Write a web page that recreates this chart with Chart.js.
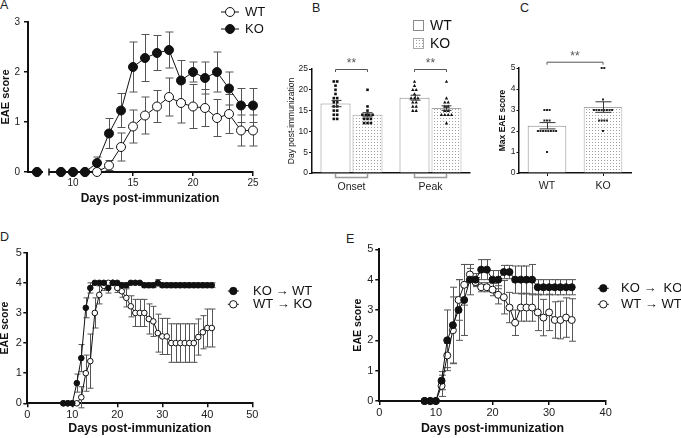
<!DOCTYPE html>
<html>
<head>
<meta charset="utf-8">
<title>EAE figure</title>
<script src="https://cdn.jsdelivr.net/npm/chart.js@4.4.1/dist/chart.umd.min.js"></script>
<style>
  html, body { margin:0; padding:0; background:#fff; }
  body { position:relative; width:681px; height:438px; overflow:hidden; font-family:"Liberation Sans", Arial, sans-serif; }
  canvas { position:absolute; }
  .pl { position:absolute; font-size:12.5px; line-height:1; color:#222; }
</style>
</head>
<body>
<div class="pl" style="left:0px;top:-0.6px">A</div>
<div class="pl" style="left:312px;top:1.7px">B</div>
<div class="pl" style="left:520px;top:1.7px">C</div>
<div class="pl" style="left:0px;top:231.4px">D</div>
<div class="pl" style="left:346px;top:233.4px">E</div>
<canvas id="cA" width="280" height="215" style="left:0;top:0;width:280px;height:215px"></canvas>
<canvas id="cB" width="212" height="215" style="left:280px;top:0;width:212px;height:215px"></canvas>
<canvas id="cC" width="189" height="215" style="left:492px;top:0;width:189px;height:215px"></canvas>
<canvas id="cD" width="340" height="223" style="left:0;top:215px;width:340px;height:223px"></canvas>
<canvas id="cE" width="341" height="223" style="left:340px;top:215px;width:341px;height:223px"></canvas>
<script>
// ===================== DATA =====================
// Panel A: EAE score, WT vs KO (mean, SEM)
const A_SERIES = ['WT', 'KO'];
const A_DAYS   = [7, 8, 9, 10, 11, 12, 13, 14, 15, 16, 17, 18, 19, 20, 21, 22, 23, 24, 25];
const A_KO     = [0, null, 0, 0, 0, 0.18, 0.77, 1.23, 2.10, 2.28, 2.38, 2.44, 1.83, 2.00, 1.88, 2.00, 1.67, 1.33, 1.33];
const A_KO_SEM = [0, 0, 0, 0, 0, 0.12, 0.30, 0.34, 0.50, 0.47, 0.35, 0.36, 0.40, 0.20, 0.32, 0.40, 0.33, 0.34, 0.34];
const A_WT     = [0, null, 0, 0, 0, 0, 0.13, 0.50, 0.91, 1.13, 1.31, 1.50, 1.38, 1.31, 1.28, 1.08, 1.16, 0.83, 0.83];
const A_WT_SEM = [0, 0, 0, 0, 0, 0, 0.10, 0.28, 0.33, 0.37, 0.32, 0.38, 0.40, 0.44, 0.37, 0.37, 0.39, 0.31, 0.31];
const A_XTICKS = [10, 15, 20, 25];
const A_YTICKS = [0, 1, 2, 3];
const A_BREAK  = [7.5, 8];
const A_XTITLE = 'Days post-immunization';
const A_YTITLE = 'EAE score';

// Panel B: day of onset / peak
const B_GROUPS   = ['Onset', 'Peak'];
const B_SERIES   = ['WT', 'KO'];
const B_WT_MEAN  = [16.7, 18.1];
const B_WT_SEM   = [0.75, 0.6];
const B_KO_MEAN  = [14.0, 15.6];
const B_KO_SEM   = [0.5, 0.55];
const B_WT_ONSET = [22, 22, 21, 20, 19, 18, 18, 17, 17, 16, 16, 15, 15, 14, 14, 13, 13];
const B_KO_ONSET = [20, 16, 15, 14, 14, 14, 14, 13, 13, 13, 12, 12, 12];
const B_WT_PEAK  = [22, 21, 20, 20, 19, 18, 18, 18, 17, 17, 16, 16, 15, 15];
const B_KO_PEAK  = [22, 18, 17, 17, 16, 16, 15, 15, 14, 14, 14, 14, 12];
const B_YTICKS   = [0, 5, 10, 15, 20, 25];
const B_SIG      = ['**', '**'];
const B_SIG_LEVEL = 25;
const B_YTITLE   = 'Day post-immunization';

// Panel C: max EAE score
const C_GROUPS  = ['WT', 'KO'];
const C_MEAN    = [2.25, 3.14];
const C_SEM     = [0.15, 0.25];
const C_WT_PTS  = [3, 3, 3, 2.5, 2.5, 2.5, 2, 2, 2, 2, 2, 2, 2, 2, 1];
const C_KO_PTS  = [5, 5, 3.5, 3, 3, 3, 3, 3, 3, 3, 3, 2.5, 2.5, 2.5, 2.5, 2];
const C_YTICKS  = [0, 1, 2, 3, 4, 5];
const C_SIG     = '**';
const C_SIG_LEVEL = 5.3;
const C_YTITLE  = 'Max EAE score';

// Panel D: bone-marrow chimeras KO→WT, WT→KO
const D_SERIES   = ['KO \u2192 WT', 'WT \u2192 KO'];
const D_DAYS     = [8, 9, 10, 11, 12, 13, 14, 15, 16, 17, 18, 19, 20, 21, 22, 23, 24, 25, 26, 27, 28, 29, 30, 31, 32, 33, 34, 35, 36, 37, 38, 39, 40, 41];
const D_KOWT     = [0, 0, 0, 0.67, 1.5, 3.17, 3.83, 4, 4, 4, 3.83, 4, 4, 3.92, 3.92, 4, 4, 4, 3.92, 3.92, 3.92, 4.0, 3.92, 3.92, 3.92, 3.92, 3.92, 3.92, 3.92, 3.92, 3.92, 3.92, 3.92, 3.92];
const D_KOWT_SEM = [0, 0, 0, 0.3, 0.45, 0.33, 0.17, 0, 0, 0, 0.17, 0, 0, 0.08, 0.08, 0, 0, 0, 0.08, 0.08, 0.08, 0.11, 0.08, 0.08, 0.08, 0.08, 0.08, 0.08, 0.08, 0.08, 0.08, 0.08, 0.08, 0.08];
const D_WTKO     = [0, 0, 0, 0, 0.2, 1.0, 1.4, 3.0, 3.6, 3.9, 4.0, 4.0, 3.83, 3.72, 3.5, 3.22, 3.0, 3.0, 3.0, 2.8, 2.72, 2.33, 2.22, 2.22, 2.0, 2.0, 2.0, 2.0, 2.0, 2.0, 2.2, 2.36, 2.5, 2.5];
const D_WTKO_SEM = [0, 0, 0, 0, 0.35, 0.6, 0.9, 0.5, 0.3, 0.15, 0, 0, 0.15, 0.2, 0.3, 0.35, 0.45, 0.45, 0.45, 0.5, 0.5, 0.63, 0.6, 0.6, 0.64, 0.64, 0.64, 0.64, 0.64, 0.64, 0.6, 0.55, 0.63, 0.63];
const D_XTICKS   = [0, 10, 20, 30, 40, 50];
const D_YTICKS   = [0, 1, 2, 3, 4, 5];

// Panel E: KO→KO, WT→WT
const E_SERIES   = ['KO \u2192  KO', 'WT \u2192 WT'];
const E_DAYS     = [8, 9, 10, 11, 12, 13, 14, 15, 16, 17, 18, 19, 20, 21, 22, 23, 24, 25, 26, 27, 28, 29, 30, 31, 32, 33, 34];
const E_KOKO     = [0, 0, 0, 0.67, 2.0, 2.5, 3.0, 3.33, 4.0, 4.0, 4.33, 4.33, 4.0, 4.0, 4.25, 4.25, 4.0, 4.0, 4.0, 4.0, 3.75, 3.75, 3.75, 3.75, 3.75, 3.75, 3.75];
const E_KOKO_SEM = [0, 0, 0, 0.3, 1.0, 1.25, 1.0, 1.17, 0.5, 0.2, 0.33, 0.33, 0.3, 0.3, 0.22, 0.22, 0.45, 0.45, 0.45, 0.5, 0.25, 0.25, 0.25, 0.25, 0.25, 0.25, 0.25];
const E_WTWT     = [0, 0, 0, 0.5, 1.5, 2.33, 3.33, 3.83, 4.17, 3.92, 3.75, 3.75, 3.67, 3.5, 3.42, 3.08, 2.58, 3.08, 3.08, 3.08, 2.92, 2.75, 2.92, 2.67, 2.67, 2.75, 2.67];
const E_WTWT_SEM = [0, 0, 0, 0.35, 0.4, 1.1, 0.67, 0.67, 0.2, 0.15, 0.15, 0.15, 0.2, 0.3, 0.55, 0.5, 0.42, 0.45, 0.45, 0.45, 0.6, 0.6, 0.6, 0.6, 0.62, 0.65, 0.7];
const E_XTICKS   = [0, 10, 20, 30, 40];
const E_YTICKS   = [0, 1, 2, 3, 4, 5];

const X_TITLE = 'Days post-immunization';
const Y_TITLE = 'EAE score';

// ===================== HELPERS =====================
const FF = '"Liberation Sans", Arial, Helvetica, sans-serif';
const INK = '#111';

function pts(xs, ys) { return xs.map((x, i) => ({ x: x, y: ys[i] })); }
function fixedTicks(list) { return s => { s.ticks = list.map(v => ({ value: v })); }; }

function axis(o) {
  const hasTick = !!o.tick;
  return {
    type: o.type || 'linear',
    min: o.min, max: o.max,
    afterBuildTicks: o.ticks ? fixedTicks(o.ticks) : undefined,
    afterFit: o.w != null ? (s => { s.width = o.w; }) : (s => { s.height = o.h; }),
    grid: { display: hasTick, drawOnChartArea: false, drawTicks: hasTick, tickLength: o.tick || 0,
            color: INK, lineWidth: o.tw || 1.5, offset: false },
    border: { display: true, color: INK, width: o.bw || 2 },
    ticks: { color: '#222', font: { family: FF, size: o.fs }, padding: o.pad, autoSkip: false, maxRotation: 0, minRotation: 0 },
    title: o.title ? { display: true, text: o.title, color: INK,
      font: { family: FF, size: o.tfs, weight: o.tbold ? 'bold' : 'normal', lineHeight: 1 }, padding: 0 } : { display: false }
  };
}

function base(p, scales) {
  return {
    responsive: false, animation: false, events: [],
    layout: { padding: { left: p.l, top: p.t, right: p.r, bottom: p.b } },
    plugins: { legend: { display: false }, tooltip: { enabled: false } },
    scales: scales
  };
}

function lineSet(label, data, sem, filled, r, cap) {
  return {
    label: label, data: data, sem: sem, semCap: cap, semColor: '#555',
    borderColor: INK, borderWidth: 1, backgroundColor: filled ? INK : '#fff',
    pointRadius: r, pointHoverRadius: r, pointBackgroundColor: filled ? INK : '#fff',
    pointBorderColor: INK, pointBorderWidth: 1, fill: false, tension: 0, spanGaps: false, clip: false
  };
}

function drawErr(chart, onTop) {
  const ctx = chart.ctx, ys = chart.scales.y;
  chart.data.datasets.forEach((ds, di) => {
    if (!ds.sem || !!ds.semOnTop !== onTop) return;
    const meta = chart.getDatasetMeta(di);
    ctx.save();
    ctx.strokeStyle = ds.semColor || '#444';
    ctx.lineWidth = ds.semWidth || 1;
    const cap = ds.semCap || 3;
    meta.data.forEach((el, i) => {
      const raw = ds.data[i];
      const v = (raw !== null && typeof raw === 'object') ? raw.y : raw;
      const e = ds.sem[i];
      if (v == null || !e) return;
      const x = Math.round(el.x) + 0.5;
      const y1 = ys.getPixelForValue(v + e), y2 = ys.getPixelForValue(v - e);
      ctx.beginPath();
      ctx.moveTo(x, y1); ctx.lineTo(x, y2);
      ctx.moveTo(x - cap, y1); ctx.lineTo(x + cap, y1);
      ctx.moveTo(x - cap, y2); ctx.lineTo(x + cap, y2);
      ctx.stroke();
    });
    ctx.restore();
  });
}
const errPlugin = {
  id: 'errbars',
  beforeDatasetsDraw(chart) { drawErr(chart, false); },
  afterDatasetsDraw(chart) { drawErr(chart, true); }
};

const dotPlugin = {
  id: 'dots',
  afterDatasetsDraw(chart) {
    const ctx = chart.ctx, ys = chart.scales.y;
    chart.data.datasets.forEach((ds, di) => {
      if (!ds.dots) return;
      const meta = chart.getDatasetMeta(di);
      ds.dots.forEach((vals, ci) => {
        const cx = meta.data[ci].x, shape = ds.dotShape[ci];
        const sz = ds.dotSize || 2.6, gap = ds.dotGap || 3.4;
        const count = {}, seen = {};
        vals.forEach(v => { count[v] = (count[v] || 0) + 1; });
        ctx.save();
        ctx.fillStyle = ds.dotColor || '#111';
        vals.forEach(v => {
          const k = seen[v] || 0; seen[v] = k + 1;
          const x = cx + (k - (count[v] - 1) / 2) * gap, y = ys.getPixelForValue(v);
          if (shape === 'tri') {
            ctx.beginPath();
            ctx.moveTo(x, y - sz * 0.7); ctx.lineTo(x + sz * 0.65, y + sz * 0.5); ctx.lineTo(x - sz * 0.65, y + sz * 0.5);
            ctx.closePath(); ctx.fill();
          } else {
            ctx.fillRect(x - sz / 2, y - sz / 2, sz, sz);
          }
        });
        ctx.restore();
      });
    });
  }
};

function legendItem(ctx, x, y, filled, r, half, text, font, tx) {
  ctx.save();
  ctx.strokeStyle = INK; ctx.lineWidth = 1;
  ctx.beginPath(); ctx.moveTo(x - half, y); ctx.lineTo(x + half, y); ctx.stroke();
  ctx.beginPath(); ctx.arc(x, y, r, 0, Math.PI * 2);
  ctx.fillStyle = filled ? INK : '#fff'; ctx.fill(); ctx.stroke();
  ctx.fillStyle = INK; ctx.font = font; ctx.textAlign = 'left'; ctx.textBaseline = 'middle';
  ctx.fillText(text, tx, y);
  ctx.restore();
}

function legendBox(ctx, x, y, s, fill, stroke, text, tx, ty) {
  ctx.save();
  ctx.fillStyle = fill; ctx.fillRect(x, y, s, s);
  ctx.strokeStyle = stroke; ctx.lineWidth = 1; ctx.strokeRect(x + 0.5, y + 0.5, s - 1, s - 1);
  ctx.fillStyle = INK; ctx.font = '14px ' + FF; ctx.textAlign = 'left'; ctx.textBaseline = 'middle';
  ctx.fillText(text, tx, ty);
  ctx.restore();
}

function sigBracket(ctx, x1, x2, y, drop, text) {
  ctx.save();
  ctx.strokeStyle = '#555'; ctx.lineWidth = 1;
  ctx.beginPath();
  ctx.moveTo(x1, y + drop); ctx.lineTo(x1, y + 0.5); ctx.lineTo(x2, y + 0.5); ctx.lineTo(x2, y + drop);
  ctx.stroke();
  ctx.fillStyle = '#555'; ctx.font = '12px ' + FF; ctx.textAlign = 'center'; ctx.textBaseline = 'alphabetic';
  ctx.fillText(text, (x1 + x2) / 2, y - 2);
  ctx.restore();
}

function makeStipple() {
  const t = document.createElement('canvas'); t.width = 3; t.height = 3;
  const g = t.getContext('2d');
  g.fillStyle = '#fff'; g.fillRect(0, 0, 3, 3);
  g.fillStyle = '#a0a0a0'; g.fillRect(1, 1, 1, 1);
  return g.createPattern(t, 'repeat');
}
const STIP = makeStipple();

// ===================== PANEL A =====================
new Chart(document.getElementById('cA'), {
  type: 'line',
  data: { datasets: [
    lineSet(A_SERIES[1], pts(A_DAYS, A_KO), A_KO_SEM, true, 4.5, 4),
    lineSet(A_SERIES[0], pts(A_DAYS, A_WT), A_WT_SEM, false, 4.5, 4)
  ]},
  options: base({ l: 0, t: 22, r: 27, b: 10 }, {
    x: axis({ min: 6.25, max: 25, ticks: A_XTICKS, h: 33, tick: 4, fs: 10, pad: 1 }),
    y: axis({ min: 0, max: 3, ticks: A_YTICKS, w: 28, tick: 4, fs: 10, pad: 4, title: A_YTITLE, tfs: 11, tbold: true })
  }),
  plugins: [errPlugin, {
    id: 'aExtras',
    afterDraw(c) {
      const ctx = c.ctx, xs = c.scales.x, ys = c.scales.y;
      const yb = ys.getPixelForValue(0);
      const g1 = xs.getPixelForValue(A_BREAK[0]), g2 = xs.getPixelForValue(A_BREAK[1]);
      ctx.save();
      ctx.fillStyle = '#fff'; ctx.fillRect(g1, yb - 2, g2 - g1, 4.5);
      ctx.strokeStyle = INK; ctx.lineWidth = 1.5;
      ctx.beginPath(); ctx.moveTo(g2, yb - 3.5); ctx.lineTo(g2, yb + 3.5); ctx.stroke();
      ctx.fillStyle = INK; ctx.font = 'bold 12px ' + FF; ctx.textAlign = 'center'; ctx.textBaseline = 'middle';
      ctx.fillText(A_XTITLE, 150, 199);
      ctx.restore();
      legendItem(ctx, 230, 12, false, 4.5, 9, A_SERIES[0], '13px ' + FF, 245);
      legendItem(ctx, 230, 29, true, 4.5, 9, A_SERIES[1], '13px ' + FF, 245);
    }
  }]
});

// ===================== PANEL B =====================
new Chart(document.getElementById('cB'), {
  type: 'bar',
  data: { labels: B_GROUPS, datasets: [
    { label: B_SERIES[0], data: B_WT_MEAN, sem: B_WT_SEM, semOnTop: true, semCap: 5, semColor: '#333',
      backgroundColor: '#fff', borderColor: '#8a8a8a', borderWidth: 1,
      categoryPercentage: 0.81, barPercentage: 0.9375,
      dots: [B_WT_ONSET, B_WT_PEAK], dotShape: ['sq', 'tri'], dotSize: 2.6, dotGap: 3.4 },
    { label: B_SERIES[1], data: B_KO_MEAN, sem: B_KO_SEM, semOnTop: true, semCap: 5, semColor: '#333',
      backgroundColor: STIP, borderColor: '#a8a8a8', borderWidth: 1,
      categoryPercentage: 0.81, barPercentage: 0.9375,
      dots: [B_KO_ONSET, B_KO_PEAK], dotShape: ['sq', 'tri'], dotSize: 2.6, dotGap: 3.4 }
  ]},
  options: base({ l: 7.5, t: 69, r: 22, b: 0 }, {
    x: axis({ type: 'category', h: 42, tick: 0, fs: 10.5, pad: 8, bw: 1.5 }),
    y: axis({ min: 0, max: 25, ticks: B_YTICKS, w: 24.5, tick: 3, tw: 1, fs: 8.5, pad: 1, bw: 1.5, title: B_YTITLE, tfs: 8.5 })
  }),
  plugins: [dotPlugin, errPlugin, {
    id: 'bExtras',
    afterDraw(c) {
      const ctx = c.ctx, ys = c.scales.y, xs = c.scales.x;
      const m0 = c.getDatasetMeta(0), m1 = c.getDatasetMeta(1);
      const yb = ys.getPixelForValue(B_SIG_LEVEL), y0 = ys.getPixelForValue(0);
      B_GROUPS.forEach((g, i) => {
        sigBracket(ctx, m0.data[i].x, m1.data[i].x, yb, 3, B_SIG[i]);
        const cx = xs.getPixelForValue(i);
        ctx.save();
        ctx.strokeStyle = '#9a9a9a'; ctx.lineWidth = 1.5;
        ctx.beginPath();
        ctx.moveTo(cx - 16, y0 + 1); ctx.lineTo(cx - 16, y0 + 4.5); ctx.lineTo(cx + 16, y0 + 4.5); ctx.lineTo(cx + 16, y0 + 1);
        ctx.stroke();
        ctx.restore();
      });
      legendBox(ctx, 133, 20, 11, '#fff', '#8a8a8a', B_SERIES[0], 150, 26);
      legendBox(ctx, 133, 38, 11, STIP, '#a8a8a8', B_SERIES[1], 150, 44);
    }
  }]
});

// ===================== PANEL C =====================
new Chart(document.getElementById('cC'), {
  type: 'bar',
  data: { labels: C_GROUPS, datasets: [
    { label: C_YTITLE, data: C_MEAN, sem: C_SEM, semOnTop: true, semCap: 8, semColor: '#333',
      backgroundColor: ['#fff', STIP], borderColor: ['#8a8a8a', '#a8a8a8'], borderWidth: 1,
      categoryPercentage: 1, barPercentage: 0.69,
      dots: [C_WT_PTS, C_KO_PTS], dotShape: ['sq', 'sq'], dotSize: 2, dotGap: 2.6, dotColor: '#222' }
  ]},
  options: base({ l: 6.75, t: 68, r: 50, b: 0 }, {
    x: axis({ type: 'category', h: 42, tick: 3, tw: 1, fs: 10.5, pad: 4, bw: 1.5 }),
    y: axis({ min: 0, max: 5, ticks: C_YTICKS, w: 20.25, tick: 2.5, tw: 1, fs: 8.5, pad: 1, bw: 1.5, title: C_YTITLE, tfs: 8.5, tbold: true })
  }),
  plugins: [dotPlugin, errPlugin, {
    id: 'cExtras',
    afterDraw(c) {
      const m = c.getDatasetMeta(0);
      sigBracket(c.ctx, m.data[0].x, m.data[1].x, c.scales.y.getPixelForValue(C_SIG_LEVEL), 3, C_SIG);
    }
  }]
});

// ===================== PANEL D =====================
new Chart(document.getElementById('cD'), {
  type: 'line',
  data: { datasets: [
    lineSet(D_SERIES[0], pts(D_DAYS, D_KOWT), D_KOWT_SEM, true, 2.8, 3),
    lineSet(D_SERIES[1], pts(D_DAYS, D_WTKO), D_WTKO_SEM, false, 2.8, 3)
  ]},
  options: base({ l: 0, t: 37.7, r: 87.7, b: 2.8 }, {
    x: axis({ min: 0, max: 50, ticks: D_XTICKS, h: 31.9, tick: 4, fs: 11, pad: 1, title: X_TITLE, tfs: 12.4, tbold: true }),
    y: axis({ min: 0, max: 5, ticks: D_YTICKS, w: 27.3, tick: 4, fs: 11, pad: 1.5, title: Y_TITLE, tfs: 10.6, tbold: true })
  }),
  plugins: [errPlugin, {
    id: 'dLegend',
    afterDraw(c) {
      legendItem(c.ctx, 233.3, 76, true, 3.7, 5.5, D_SERIES[0], '13px ' + FF, 253);
      legendItem(c.ctx, 233.3, 89.3, false, 3.7, 5.5, D_SERIES[1], '13px ' + FF, 253);
    }
  }]
});

// ===================== PANEL E =====================
new Chart(document.getElementById('cE'), {
  type: 'line',
  data: { datasets: [
    lineSet(E_SERIES[0], pts(E_DAYS, E_KOKO), E_KOKO_SEM, true, 3.5, 3.5),
    lineSet(E_SERIES[1], pts(E_DAYS, E_WTWT), E_WTWT_SEM, false, 3.5, 3.5)
  ]},
  options: base({ l: 12.5, t: 34.3, r: 75.3, b: 2.8 }, {
    x: axis({ min: 0, max: 40, ticks: E_XTICKS, h: 34.2, tick: 4, fs: 11, pad: 1, title: X_TITLE, tfs: 12.4, tbold: true }),
    y: axis({ min: 0, max: 5, ticks: E_YTICKS, w: 26.8, tick: 4, fs: 11, pad: 2, title: Y_TITLE, tfs: 10.6, tbold: true })
  }),
  plugins: [errPlugin, {
    id: 'eLegend',
    afterDraw(c) {
      legendItem(c.ctx, 263.3, 73.3, true, 3.7, 5.5, E_SERIES[0], '13px ' + FF, 281);
      legendItem(c.ctx, 263.3, 89.3, false, 3.7, 5.5, E_SERIES[1], '13px ' + FF, 281);
    }
  }]
});
</script>
</body>
</html>
